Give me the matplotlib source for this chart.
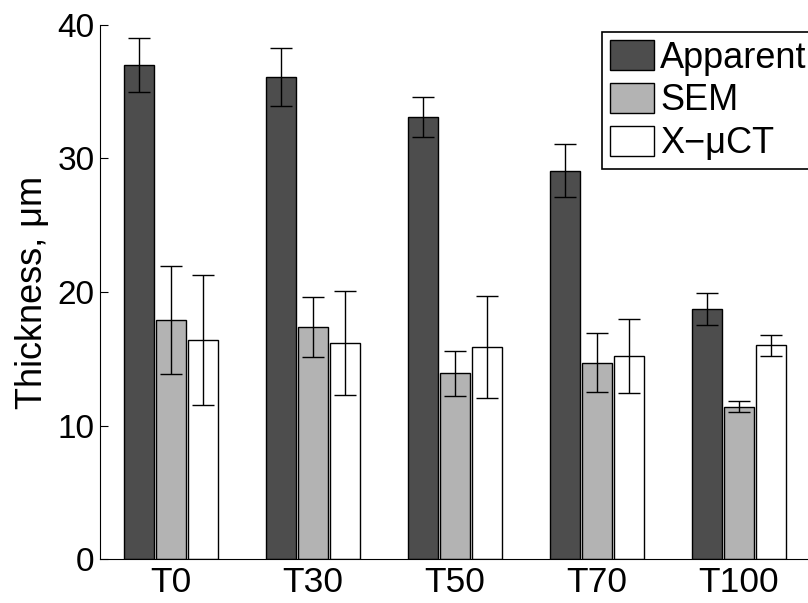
import matplotlib
matplotlib.use('Agg')
import matplotlib.pyplot as plt
import numpy as np

plt.rcParams['font.family'] = ['Liberation Sans', 'DejaVu Sans']

grupos = ['T0', 'T30', 'T50', 'T70', 'T100']
series = ['Apparent', 'SEM', 'X\u2212\u03bcCT']

apparent = [37.0, 36.1, 33.1, 29.1, 18.7]
apparent_err = [2.0, 2.2, 1.5, 2.0, 1.2]
sem = [17.9, 17.4, 13.9, 14.7, 11.4]
sem_err = [4.05, 2.25, 1.7, 2.2, 0.41]
xct = [16.4, 16.2, 15.85, 15.2, 16.0]
xct_err = [4.85, 3.9, 3.82, 2.75, 0.81]

colores = ['#4d4d4d', '#b3b3b3', '#ffffff']

fig = plt.figure(figsize=(8.08, 6.03), dpi=100)
ax = fig.add_axes([100/808, 44/603, 710/808, 534/603])

x = np.arange(1, len(grupos) + 1)
ancho = 0.205
paso = 0.225

datos = [(apparent, apparent_err), (sem, sem_err), (xct, xct_err)]
for i, (vals, errs) in enumerate(datos):
    pos = x + (i - 1) * paso
    ax.bar(pos, vals, width=ancho, color=colores[i], edgecolor='black',
           linewidth=1.0, label=series[i], zorder=2)
    ax.errorbar(pos, vals, yerr=errs, fmt='none', ecolor='black',
                elinewidth=1.0, capsize=8, capthick=1.0, zorder=3)

ax.set_xlim(0.5, 5.5)
ax.set_ylim(0, 40)
ax.set_yticks([0, 10, 20, 30, 40])
ax.set_xticks(x)
ax.set_xticklabels(grupos)
ax.tick_params(axis='both', direction='in')
ax.tick_params(axis='y', labelsize=24, length=6, pad=4)
ax.tick_params(axis='x', labelsize=25.5, length=0, pad=5)

ax.spines['top'].set_visible(False)
ax.spines['right'].set_visible(False)

ax.set_ylabel('Thickness, \u03bcm', fontsize=26, labelpad=5)

leg = ax.legend(loc='upper left', bbox_to_anchor=(602/808, 1 - 32/603),
                bbox_transform=fig.transFigure, fontsize=26, frameon=True,
                fancybox=False, edgecolor='black', framealpha=1,
                handlelength=1.22, handleheight=0.92, handletextpad=0.17,
                borderpad=0.22, labelspacing=0.2, borderaxespad=0)
leg.get_frame().set_linewidth(1.2)

fig.savefig('out.png', dpi=100)
